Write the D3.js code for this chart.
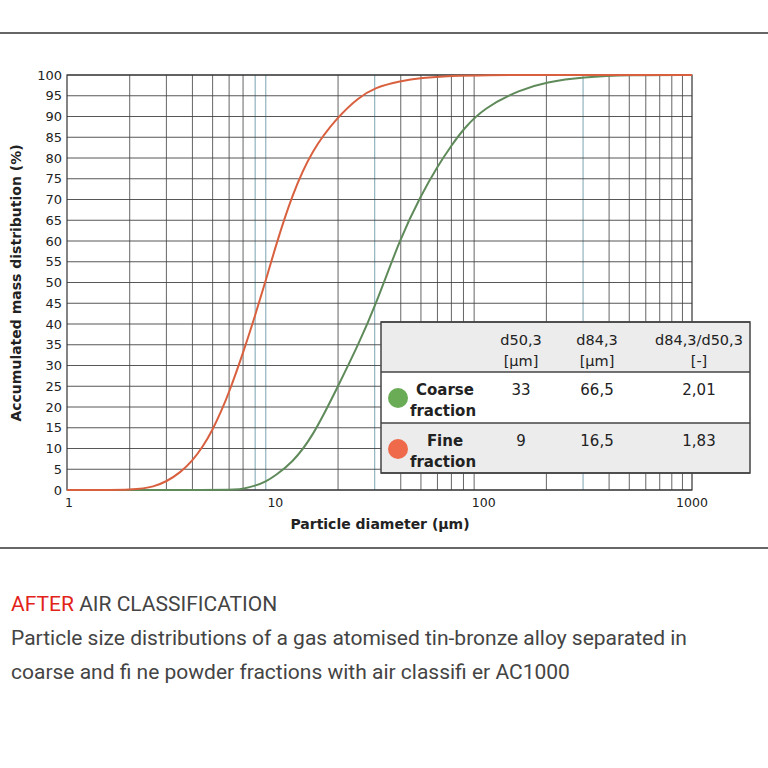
<!DOCTYPE html><html><head><meta charset="utf-8"><script src="https://cdn.jsdelivr.net/npm/d3@7"></script>
<style>body{margin:0;background:#fff}svg{font-family:"DejaVu Sans",sans-serif}</style></head><body>
<svg id="c" width="768" height="768"></svg>
<script>
const fineX=[1,2.2,2.6,3,3.5,4,4.5,5,5.5,6,7,8,9,10,12,15,20,25,30,40,50,70,100,200,1000];
const fineY=[0,0,0.8,2,4.2,7,10.5,14.5,19,23.5,33,42,50.5,58.5,71,82,90,94.5,97,98.6,99.3,99.8,100,100,100];
const coarseX=[1,5,6.5,7,8,9,10,12,15,20,25,30,40,50,60,70,80,100,150,200,300,500,1000];
const coarseY=[0,0,0.1,0.3,1,2,3.5,6.5,12.5,25,35,44,61,71,78,83,87,92,96.5,98.3,99.5,100,100];
const yTicks=d3.range(0,101,5);
const xTicks=[1,10,100,1000];
const tableHead=[["d50,3","[µm]"],["d84,3","[µm]"],["d84,3/d50,3","[-]"]];
const tableRows=[{name:["Coarse","fraction"],color:"#6aab55",vals:["33","66,5","2,01"]},{name:["Fine","fraction"],color:"#ee6a4a",vals:["9","16,5","1,83"]}];

const svg=d3.select("#c");
svg.append("line").attr("x1",0).attr("x2",768).attr("y1",33).attr("y2",33).attr("stroke","#333").attr("stroke-width",1.5);
svg.append("line").attr("x1",0).attr("x2",768).attr("y1",548).attr("y2",548).attr("stroke","#333").attr("stroke-width",1.5);
const x=d3.scaleLog().domain([1,1000]).range([67,692]);
const y=d3.scaleLinear().domain([0,100]).range([490,75]);
const g=svg.append("g");
const minor=[];for(let d=1;d<1000;d*=10)for(let k=2;k<=9;k++)minor.push(d*k);
g.selectAll(".vm").data(minor).join("line").attr("x1",d=>x(d)).attr("x2",d=>x(d)).attr("y1",75).attr("y2",490)
 .attr("stroke",d=>[8,9,30,300].includes(d)?"#6c9aa8":"#555").attr("stroke-width",0.9);
g.selectAll(".hy").data(yTicks).join("line").attr("x1",67).attr("x2",692).attr("y1",d=>y(d)).attr("y2",d=>y(d)).attr("stroke","#444").attr("stroke-width",0.9);
g.append("rect").attr("x",67).attr("y",75).attr("width",625).attr("height",415).attr("fill","none").attr("stroke","#333").attr("stroke-width",1.2);
g.selectAll(".yl").data(yTicks).join("text").attr("x",62).attr("y",d=>y(d)+4.5).attr("text-anchor","end").attr("font-size",13).attr("fill","#222").text(d=>d);
g.selectAll(".xl").data(xTicks).join("text").attr("x",d=>x(d)+(d==1?2:0)).attr("y",507).attr("text-anchor","middle").attr("font-size",12.5).attr("fill","#222").text(d=>d);
svg.append("text").attr("x",380).attr("y",529).attr("text-anchor","middle").attr("font-size",14).attr("font-weight","bold").attr("fill","#222").text("Particle diameter (µm)");
svg.append("text").attr("transform","translate(21,283) rotate(-90)").attr("text-anchor","middle").attr("font-size",14).attr("font-weight","bold").attr("fill","#222").text("Accumulated mass distribution (%)");
const line=d3.line().x(d=>x(d[0])).y(d=>y(d[1])).curve(d3.curveBasis);
g.append("path").attr("d",line(coarseX.map((v,i)=>[v,coarseY[i]]))).attr("fill","none").attr("stroke","#5f8a5a").attr("stroke-width",2);
g.append("path").attr("d",line(fineX.map((v,i)=>[v,fineY[i]]))).attr("fill","none").attr("stroke","#d9603f").attr("stroke-width",2);
// table
const t=svg.append("g");
const tx=381,tw=369,rows=[322,372,423,473];
t.append("rect").attr("x",tx).attr("y",rows[0]).attr("width",tw).attr("height",rows[1]-rows[0]).attr("fill","#ececec");
t.append("rect").attr("x",tx).attr("y",rows[1]).attr("width",tw).attr("height",rows[2]-rows[1]).attr("fill","#fff");
t.append("rect").attr("x",tx).attr("y",rows[2]).attr("width",tw).attr("height",rows[3]-rows[2]).attr("fill","#ececec");
t.selectAll(".rl").data(rows).join("line").attr("x1",tx).attr("x2",tx+tw).attr("y1",d=>d).attr("y2",d=>d).attr("stroke","#444").attr("stroke-width",1.5);
t.append("rect").attr("x",tx).attr("y",rows[0]).attr("width",tw).attr("height",rows[3]-rows[0]).attr("fill","none").attr("stroke","#444").attr("stroke-width",1.5);
const cx=[521,597,699];
tableHead.forEach((h,i)=>{t.append("text").attr("x",cx[i]).attr("y",345).attr("text-anchor","middle").attr("font-size",14.5).attr("fill","#222").text(h[0]);
 t.append("text").attr("x",cx[i]).attr("y",366).attr("text-anchor","middle").attr("font-size",14.5).attr("fill","#222").text(h[1]);});
tableRows.forEach((r,j)=>{const y0=rows[j+1];
 t.append("circle").attr("cx",398).attr("cy",y0+26).attr("r",10).attr("fill",r.color);
 t.append("text").attr("x",445).attr("y",y0+23).attr("text-anchor","middle").attr("font-size",15).attr("font-weight","bold").attr("fill","#222").text(r.name[0]);
 t.append("text").attr("x",443).attr("y",y0+44).attr("text-anchor","middle").attr("font-size",15).attr("font-weight","bold").attr("fill","#222").text(r.name[1]);
 r.vals.forEach((v,i)=>t.append("text").attr("x",cx[i]).attr("y",y0+23).attr("text-anchor","middle").attr("font-size",15).attr("fill","#222").text(v));});
// caption
const c1=svg.append("text").attr("x",11).attr("y",611).attr("font-size",21).attr("font-family","Roboto, sans-serif");
c1.append("tspan").attr("fill","#e2231a").text("AFTER");
c1.append("tspan").attr("fill","#444").text(" AIR CLASSIFICATION");
svg.append("text").attr("x",11).attr("y",645).attr("font-size",21).attr("font-family","Roboto, sans-serif").attr("fill","#444").text("Particle size distributions of a gas atomised tin-bronze alloy separated in");
svg.append("text").attr("x",11).attr("y",679).attr("font-size",21).attr("font-family","Roboto, sans-serif").attr("fill","#444").text("coarse and fi ne powder fractions with air classifi er AC1000");
</script></body></html>
